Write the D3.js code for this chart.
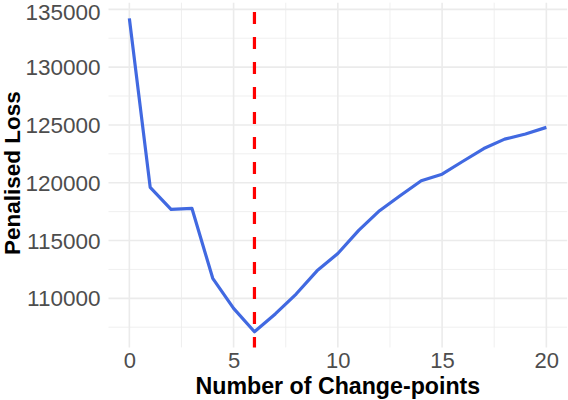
<!DOCTYPE html>
<html><head><meta charset="utf-8">
<script src="https://cdn.jsdelivr.net/npm/d3@7"></script>
<style>body{margin:0;background:#fff}svg{display:block}</style>
</head><body>
<script>
const changePoints = [0,1,2,3,4,5,6,7,8,9,10,11,12,13,14,15,16,17,18,19,20];
const penalisedLoss = [134220,119600,117700,117790,111730,109130,107110,108650,110370,112380,113880,115880,117580,118900,120170,120740,121860,122960,123770,124220,124790];
const xTicks = [0,5,10,15,20];
const yTicks = [110000,115000,120000,125000,130000,135000];
const xMinor = [2.5,7.5,12.5,17.5];
const yMinor = [107500,112500,117500,122500,127500,132500];
const optimalK = 6;

const W = 568, H = 400;
const svg = d3.select("body").append("svg").attr("width", W).attr("height", H);

const xExt = d3.extent(changePoints), yExt = d3.extent(penalisedLoss);
const xPad = (xExt[1]-xExt[0])*0.05, yPad = (yExt[1]-yExt[0])*0.05;
const x = d3.scaleLinear().domain([xExt[0]-xPad, xExt[1]+xPad]).range([108.5, 567.2]);
const y = d3.scaleLinear().domain([yExt[0]-yPad, yExt[1]+yPad]).range([347.4, 2.7]);

const grid = svg.append("g");
grid.selectAll(".xmin").data(xMinor).join("line")
  .attr("x1", d=>x(d)).attr("x2", d=>x(d)).attr("y1", y.range()[0]).attr("y2", y.range()[1])
  .attr("stroke", "#EBEBEB").attr("stroke-width", 0.8);
grid.selectAll(".ymin").data(yMinor).join("line")
  .attr("y1", d=>y(d)).attr("y2", d=>y(d)).attr("x1", x.range()[0]).attr("x2", x.range()[1])
  .attr("stroke", "#EBEBEB").attr("stroke-width", 0.8);
grid.selectAll(".xmaj").data(xTicks).join("line")
  .attr("x1", d=>x(d)).attr("x2", d=>x(d)).attr("y1", y.range()[0]).attr("y2", y.range()[1])
  .attr("stroke", "#EBEBEB").attr("stroke-width", 1.6);
grid.selectAll(".ymaj").data(yTicks).join("line")
  .attr("y1", d=>y(d)).attr("y2", d=>y(d)).attr("x1", x.range()[0]).attr("x2", x.range()[1])
  .attr("stroke", "#EBEBEB").attr("stroke-width", 1.6);

// red dashed vertical line
svg.append("line")
  .attr("x1", x(optimalK)).attr("x2", x(optimalK))
  .attr("y1", y.range()[0]).attr("y2", y.range()[1])
  .attr("stroke", "#FF0000").attr("stroke-width", 3.2)
  .attr("stroke-dasharray", "12,13").attr("stroke-dashoffset", 1.7);

// loss line
const line = d3.line().x((d,i)=>x(changePoints[i])).y(d=>y(d));
svg.append("path").datum(penalisedLoss)
  .attr("d", line).attr("fill", "none")
  .attr("stroke", "#4169E1").attr("stroke-width", 3.2)
  .attr("stroke-linejoin", "round").attr("stroke-linecap", "butt");

// axes
const font = "'Liberation Sans', Arial, Helvetica, sans-serif";
const xAxis = svg.append("g").attr("transform", `translate(0,${y.range()[0]})`)
  .call(d3.axisBottom(x).tickValues(xTicks).tickSize(0).tickPadding(0).tickFormat(d3.format("d")));
xAxis.select(".domain").remove();
xAxis.selectAll("text").attr("y", 21).attr("dy", 0)
  .attr("font-family", font).attr("font-size", 22).attr("fill", "#4D4D4D");

const yAxis = svg.append("g")
  .call(d3.axisLeft(y).tickValues(yTicks).tickSize(0).tickPadding(8).tickFormat(d3.format("d")));
yAxis.select(".domain").remove();
yAxis.selectAll(".tick").attr("transform", d => `translate(${x.range()[0]},${Math.max(y(d), 12.3)})`);
yAxis.selectAll("text").attr("font-family", font).attr("font-size", 22.5).attr("fill", "#4D4D4D").attr("dy", "0.36em");

// titles
svg.append("text").attr("x", (x.range()[0]+x.range()[1])/2).attr("y", 394)
  .attr("text-anchor", "middle").attr("font-family", font).attr("font-weight", "bold")
  .attr("font-size", 23.2).attr("fill", "#000").text("Number of Change-points");
svg.append("text").attr("transform", `translate(19.5,${(y.range()[0]+y.range()[1])/2 - 2}) rotate(-90)`)
  .attr("text-anchor", "middle").attr("font-family", font).attr("font-weight", "bold")
  .attr("font-size", 22.5).attr("fill", "#000").text("Penalised Loss");
</script>
</body></html>
